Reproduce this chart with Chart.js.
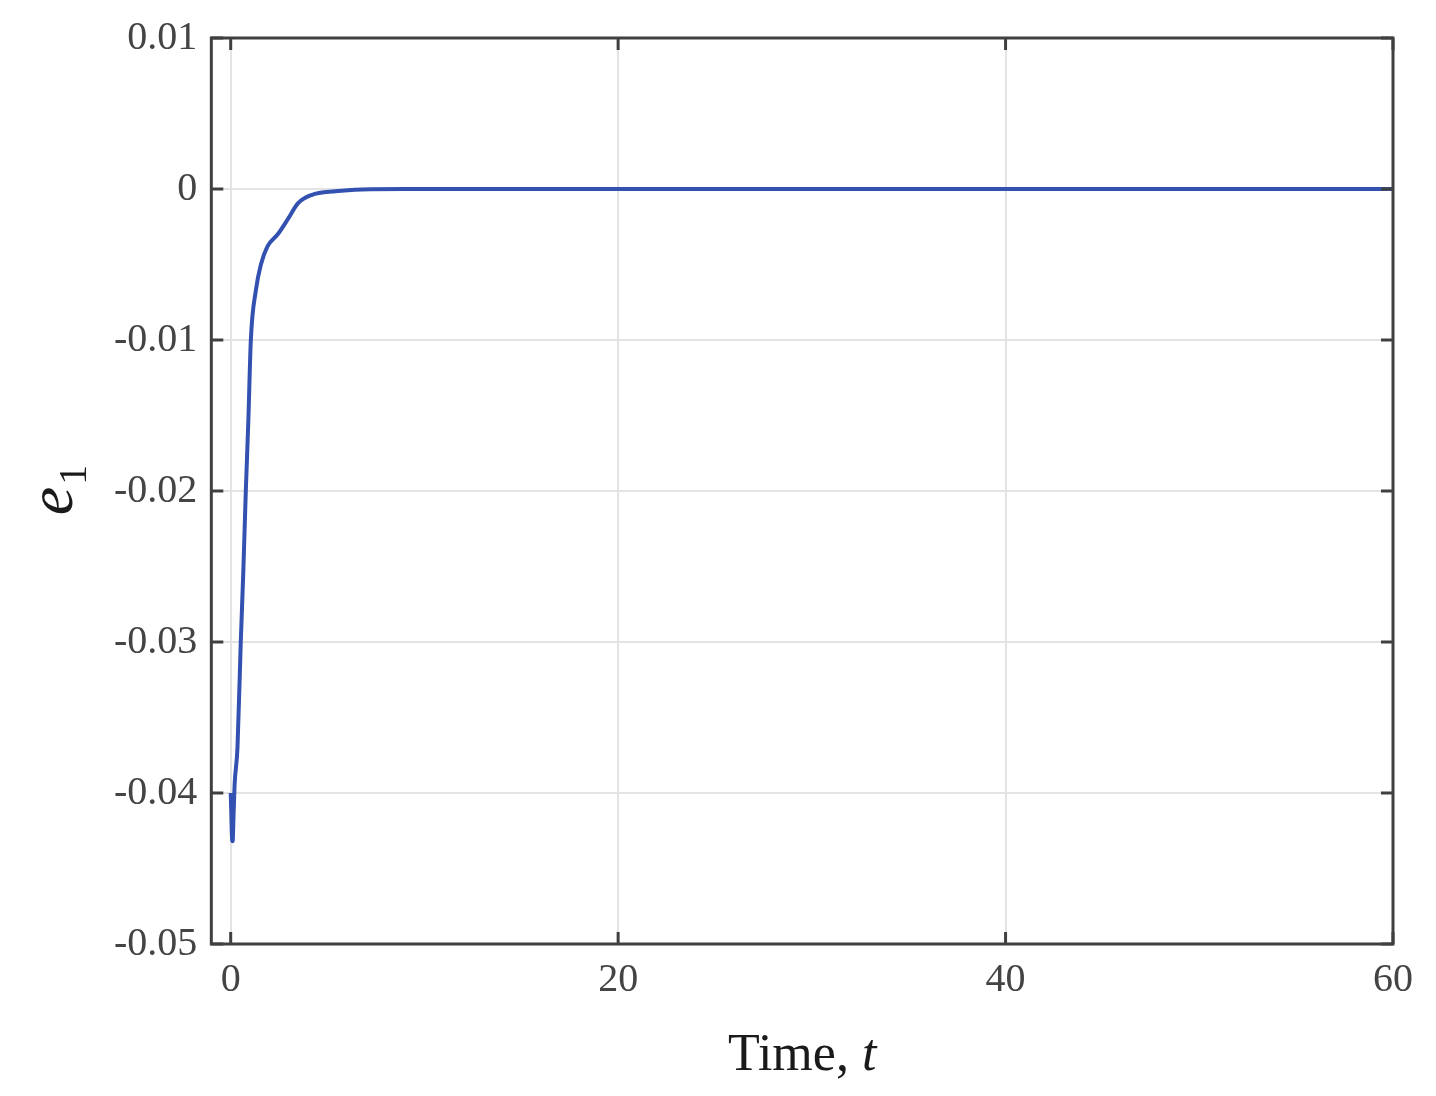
<!DOCTYPE html>
<html>
<head>
<meta charset="utf-8">
<script src="https://cdn.jsdelivr.net/npm/chart.js@4/dist/chart.umd.min.js"></script>
<style>
  html, body { margin: 0; padding: 0; background: #fff; }
  #wrap { width: 1436px; height: 1096px; }
</style>
</head>
<body>
<div id="wrap"><canvas id="c"></canvas></div>
<script>
const timeVals = [0, 0.03, 0.06, 0.1, 0.14, 0.2, 0.35, 0.52, 0.65, 0.78, 0.91, 1.04, 1.3, 1.56, 1.9, 2.43, 2.95, 3.47, 4.17, 5.4, 6.8, 9, 15, 20, 30, 40, 50, 60];
const e1Vals = [-0.04, -0.0412, -0.0428, -0.0432, -0.0418, -0.0395, -0.037, -0.03, -0.0254, -0.02, -0.0154, -0.01, -0.0067, -0.005, -0.0038, -0.003, -0.002, -0.00095, -0.0004, -0.00015, -0.00003, 0, 0, 0, 0, 0, 0, 0];
const xTicks = [0, 20, 40, 60];
const yTicks = [0.01, 0, -0.01, -0.02, -0.03, -0.04, -0.05];

const points = timeVals.map((t, i) => ({ x: t, y: e1Vals[i] }));
const tickFont = { family: "'Liberation Serif', 'Times New Roman', serif", size: 40 };

const frame = {
  id: "frame",
  afterDatasetsDraw(chart) {
    const { ctx, chartArea: a, scales } = chart;
    ctx.save();
    ctx.strokeStyle = "#404040";
    ctx.lineWidth = 3;
    ctx.strokeRect(a.left, a.top, a.right - a.left, a.bottom - a.top);
    const len = 12;
    ctx.beginPath();
    scales.x.ticks.forEach(t => {
      const px = scales.x.getPixelForValue(t.value);
      ctx.moveTo(px, a.bottom); ctx.lineTo(px, a.bottom - len);
      ctx.moveTo(px, a.top); ctx.lineTo(px, a.top + len);
    });
    scales.y.ticks.forEach(t => {
      const py = scales.y.getPixelForValue(t.value);
      ctx.moveTo(a.left, py); ctx.lineTo(a.left + len, py);
      ctx.moveTo(a.right, py); ctx.lineTo(a.right - len, py);
    });
    ctx.stroke();
    // axis titles
    ctx.fillStyle = "#1a1a1a";
    ctx.textAlign = "center";
    ctx.textBaseline = "alphabetic";
    ctx.font = "52px 'Liberation Serif', serif";
    const xt = "Time, ";
    ctx.font = "52px 'Liberation Serif', serif";
    const w1 = ctx.measureText(xt).width;
    ctx.font = "italic 52px 'Liberation Serif', serif";
    const w2 = ctx.measureText("t").width;
    const cx = (a.left + a.right) / 2, by = 1070;
    ctx.textAlign = "left";
    ctx.font = "52px 'Liberation Serif', serif";
    ctx.fillText(xt, cx - (w1 + w2) / 2, by);
    ctx.font = "italic 52px 'Liberation Serif', serif";
    ctx.fillText("t", cx - (w1 + w2) / 2 + w1, by);
    // y title rotated
    ctx.translate(72, (a.top + a.bottom) / 2);
    ctx.rotate(-Math.PI / 2);
    ctx.textAlign = "left";
    ctx.font = "italic 64px 'Liberation Serif', serif";
    const we = ctx.measureText("e").width;
    ctx.font = "40px 'Liberation Serif', serif";
    const ws = ctx.measureText("1").width;
    const sx = -(we + ws) / 2;
    ctx.font = "italic 64px 'Liberation Serif', serif";
    ctx.fillText("e", sx, 0);
    ctx.font = "40px 'Liberation Serif', serif";
    ctx.fillText("1", sx + we + 2, 14);
    ctx.restore();
  }
};

new Chart(document.getElementById("c"), {
  type: "line",
  data: {
    datasets: [{
      data: points,
      borderColor: "#3251b0",
      borderWidth: 4,
      pointRadius: 0,
      fill: false,
      cubicInterpolationMode: "monotone"
    }]
  },
  options: {
    responsive: true,
    maintainAspectRatio: false,
    animation: false,
    layout: { padding: { left: 100, right: 43, top: 36, bottom: 80 } },
    plugins: { legend: { display: false }, tooltip: { enabled: false } },
    scales: {
      x: {
        type: "linear", min: -1, max: 60,
        afterBuildTicks: s => { s.ticks = xTicks.map(v => ({ value: v })); },
        grid: { color: "#e4e4e4", lineWidth: 2, drawTicks: false },
        border: { display: false },
        ticks: { color: "#444", font: tickFont, padding: 12, maxRotation: 0 }
      },
      y: {
        type: "linear", min: -0.05, max: 0.01,
        afterBuildTicks: s => { s.ticks = yTicks.map(v => ({ value: v })); },
        grid: { color: "#e4e4e4", lineWidth: 2, drawTicks: false },
        border: { display: false },
        ticks: { color: "#444", font: tickFont, padding: 14, callback: v => (v === 0 ? "0" : String(Number(v.toFixed(2)))) }
      }
    }
  },
  plugins: [frame]
});
</script>
</body>
</html>
